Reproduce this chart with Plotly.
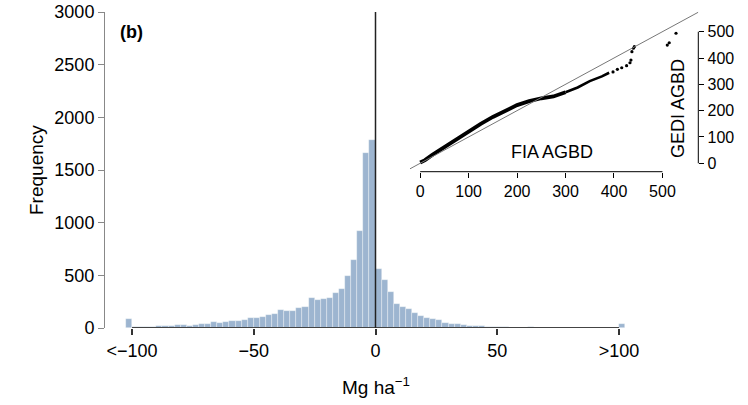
import numpy as np
import plotly.graph_objects as go

# ---------------- data ----------------
bin_width = 2.5
count_below = [88]          # "<-100" bin
counts_neg = [6, 9, 9, 13, 16, 16, 19, 25, 32, 19, 28, 35, 38, 57, 47, 57, 66, 66, 76, 98,
              98, 101, 126, 136, 174, 161, 164, 189, 199, 287, 268, 271, 284, 334, 366, 496,
              641, 925, 1664, 1784]
counts_pos = [562, 458, 338, 230, 199, 177, 145, 114, 95, 82, 79, 51, 35, 35, 28, 22, 16, 16,
              13, 13, 6, 6, 3, 3, 3, 6, 3, 3, 2, 2, 2, 2, 2, 2, 2, 2, 2, 2, 2, 2]
count_above = [35]          # ">100" bin
counts = count_below + counts_neg + counts_pos + count_above
bin_left = np.arange(-102.5, 102.5, bin_width)
bin_centers = bin_left + bin_width / 2

x_tickvals = [-100, -50, 0, 50, 100]
x_ticktext = ["<\u2212100", "\u221250", "0", "50", ">100"]
y_tickvals = [0, 500, 1000, 1500, 2000, 2500, 3000]

# inset QQ data (FIA vs GEDI AGBD quantiles)
fia_dense_a = [0, 10, 25, 50, 75, 100, 125, 150, 175, 200, 225, 250, 275, 300]
gedi_dense_a = [3, 12, 32, 62, 92, 122, 150, 176, 200, 221, 236, 247, 254, 270]
fia_dense_b = [300, 325, 350, 375, 390]
gedi_dense_b = [270, 288, 312, 330, 344]
fia_tail = [398, 407, 416, 426, 433, 435, 437, 440, 442, 510, 514, 528]
gedi_tail = [347, 357, 363, 371, 382, 392, 424, 437, 443, 449, 458, 494]
inset_ticks = [0, 100, 200, 300, 400, 500]

W, H = 748, 405
def px_x(p): return p / W
def px_y(p): return 1 - p / H

FONT = "Liberation Sans, Arial, Helvetica, sans-serif"
BAR = "#9db5d0"

fig = go.Figure()
fig.add_trace(go.Bar(
    x=bin_centers, y=counts, width=bin_width,
    marker=dict(color=BAR, line=dict(color="rgba(255,255,255,0.55)", width=0.6)),
    xaxis="x", yaxis="y", showlegend=False))

fig.add_trace(go.Scatter(x=fia_dense_a, y=gedi_dense_a, mode="lines",
                         line=dict(color="black", width=3.8),
                         xaxis="x2", yaxis="y2", showlegend=False))
fig.add_trace(go.Scatter(x=fia_dense_b, y=gedi_dense_b, mode="lines",
                         line=dict(color="black", width=2.6),
                         xaxis="x2", yaxis="y2", showlegend=False))
fig.add_trace(go.Scatter(x=fia_tail, y=gedi_tail, mode="markers",
                         marker=dict(color="black", size=3.2),
                         xaxis="x2", yaxis="y2", showlegend=False))

fig.update_layout(
    width=W, height=H, autosize=False,
    margin=dict(l=0, r=0, t=0, b=0, pad=0, autoexpand=False),
    paper_bgcolor="white", plot_bgcolor="rgba(0,0,0,0)",
    font=dict(family=FONT, size=18, color="black"),
    bargap=0,
    xaxis=dict(domain=[px_x(105), px_x(646)], range=[-111.1, 111.1],
               tickvals=x_tickvals, ticktext=x_ticktext,
               ticks="outside", ticklen=6, tickwidth=1.6, tickcolor="#333",
               showline=False, showgrid=False, zeroline=False, automargin=False,
               tickfont=dict(size=18)),
    yaxis=dict(domain=[1 - 328 / H, 1 - 12 / H], range=[0, 3000],
               tickvals=y_tickvals, ticks="outside", ticklen=6, tickwidth=1,
               tickcolor="#888", showline=True, linecolor="#888", linewidth=1,
               showgrid=False, zeroline=False, automargin=False,
               tickfont=dict(size=18)),
    xaxis2=dict(domain=[px_x(410), px_x(698.3)], range=[-21, 574], anchor="y2",
                tickvals=inset_ticks, ticks="outside", ticklen=5, tickwidth=1,
                tickcolor="black", showline=False, showgrid=False, zeroline=False,
                automargin=False, tickfont=dict(size=16)),
    yaxis2=dict(domain=[1 - 171.7 / H, 1 - 8 / H], range=[-32, 590], anchor="x2",
                side="right", tickvals=inset_ticks, ticks="outside", ticklen=5,
                tickwidth=1, tickcolor="black", showline=False, showgrid=False,
                zeroline=False, automargin=False, tickfont=dict(size=16)),
)

shapes = [
    # main x axis line (-100 to 100)
    dict(type="line", xref="x", yref="y", x0=-100, x1=100, y0=0, y1=0,
         line=dict(color="#444", width=2)),
    # vertical zero line
    dict(type="line", xref="x", yref="y", x0=0, x1=0, y0=0, y1=3000,
         line=dict(color="#222", width=1.5)),
    # inset axis lines
    dict(type="line", xref="x2", yref="y2 domain", x0=0, x1=500, y0=0, y1=0,
         line=dict(color="black", width=1)),
    dict(type="line", xref="x2 domain", yref="y2", x0=1, x1=1, y0=0, y1=500,
         line=dict(color="black", width=1)),
    # 1:1 line
    dict(type="line", xref="x2", yref="y2", x0=-21, x1=574, y0=-21, y1=574,
         line=dict(color="#777", width=1)),
]
fig.update_layout(shapes=shapes)

annotations = [
    dict(text="Frequency", x=px_x(36), y=px_y(170), xref="paper", yref="paper",
         showarrow=False, textangle=-90, font=dict(size=19),
         xanchor="center", yanchor="middle"),
    dict(text="<b>(b)</b>", x=px_x(131), y=px_y(32), xref="paper", yref="paper",
         showarrow=False, font=dict(size=18), xanchor="center", yanchor="middle"),
    dict(text="Mg ha<sup>\u22121</sup>", x=px_x(376), y=px_y(386), xref="paper",
         yref="paper", showarrow=False, font=dict(size=19),
         xanchor="center", yanchor="middle"),
    dict(text="FIA AGBD", x=px_x(552), y=px_y(152), xref="paper", yref="paper",
         showarrow=False, font=dict(size=18), xanchor="center", yanchor="middle"),
    dict(text="GEDI AGBD", x=px_x(678), y=px_y(109), xref="paper", yref="paper",
         showarrow=False, textangle=-90, font=dict(size=18),
         xanchor="center", yanchor="middle"),
]
fig.update_layout(annotations=annotations)

post = "document.body.style.margin='0';document.body.style.overflow='hidden';"
fig.write_html("out.html", post_script=post, config={"displayModeBar": False})
